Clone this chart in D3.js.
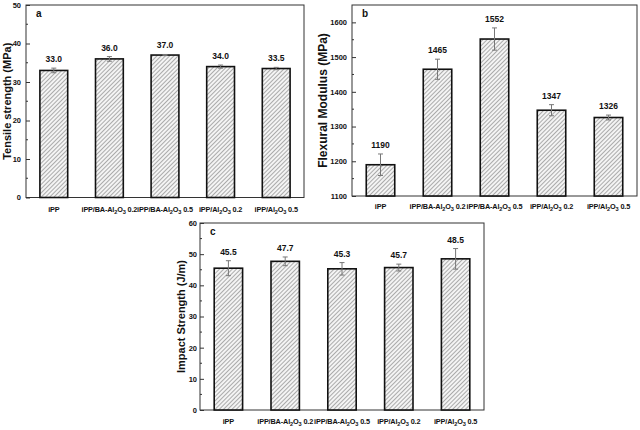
<!DOCTYPE html>
<html>
<head>
<meta charset="utf-8">
<script src="https://cdn.jsdelivr.net/npm/d3@7"></script>
<style>
  html, body { margin: 0; padding: 0; background: #fff; }
  svg { display: block; font-family: "Liberation Sans", Arial, sans-serif; font-weight: bold; }
</style>
</head>
<body>
<svg id="chart" width="640" height="430"></svg>
<script>
// ---- data ----
const categories = ["iPP", "iPP/BA-Al2O3 0.2", "iPP/BA-Al2O3 0.5", "iPP/Al2O3 0.2", "iPP/Al2O3 0.5"];

const tensile = [33.0, 36.0, 37.0, 34.0, 33.5];
const tensileErr = [0.6, 0.6, 0.15, 0.4, 0.3];
const tensileTicks = [0, 10, 20, 30, 40, 50];

const flexural = [1190, 1465, 1552, 1347, 1326];
const flexuralErr = [31, 29, 32, 16, 7];
const flexuralTicks = [1100, 1200, 1300, 1400, 1500, 1600];

const impact = [45.5, 47.7, 45.3, 45.7, 48.5];
const impactErr = [2.4, 1.4, 2.0, 1.1, 3.3];
const impactTicks = [0, 10, 20, 30, 40, 50, 60];

// ---- drawing ----
const svg = d3.select("#chart");
const defs = svg.append("defs");
const pat = defs.append("pattern")
  .attr("id", "hatch").attr("patternUnits", "userSpaceOnUse")
  .attr("width", 3).attr("height", 3)
  .attr("patternTransform", "rotate(45)");
pat.append("rect").attr("width", 3).attr("height", 3).attr("fill", "#f4f4f4");
pat.append("line").attr("x1", 0).attr("y1", 0).attr("x2", 0).attr("y2", 3)
  .attr("stroke", "#6f6f6f").attr("stroke-width", 1.1);

function catLabel(sel, s) {
  // render Al2O3 with subscripts
  const m = s.match(/^(.*Al)2O3(.*)$/);
  if (!m) { sel.text(s); return; }
  sel.append("tspan").text(m[1]);
  sel.append("tspan").attr("dy", 2.3).attr("font-size", 5.6).text("2");
  sel.append("tspan").attr("dy", -2.3).text("O");
  sel.append("tspan").attr("dy", 2.3).attr("font-size", 5.6).text("3");
  sel.append("tspan").attr("dy", -2.3).text(m[2]);
}

function panel(cfg) {
  const g = svg.append("g");
  const x = d3.scaleBand().domain(categories).range([cfg.x0, cfg.x1]).paddingInner(0.5).paddingOuter(0.25);
  const y = d3.scaleLinear().domain(cfg.domain).range([cfg.y1, cfg.y0]);

  // frame
  g.append("rect").attr("x", cfg.x0).attr("y", cfg.y0)
    .attr("width", cfg.x1 - cfg.x0).attr("height", cfg.y1 - cfg.y0)
    .attr("fill", "none").attr("stroke", "#333").attr("stroke-width", 1);

  // y axis (ticks inward)
  const ax = d3.axisLeft(y).tickValues(cfg.ticks).tickSize(-4).tickPadding(cfg.tickPad).tickFormat(d3.format("d"));
  const ag = g.append("g").attr("transform", `translate(${cfg.x0},0)`).call(ax);
  ag.select(".domain").remove();
  ag.selectAll("text").attr("font-size", 7.5).attr("font-weight", "bold").attr("fill", "#111")
    .attr("font-family", "Liberation Sans, Arial, sans-serif");
  ag.selectAll("line").attr("stroke", "#333");
  // minor ticks
  const minor = d3.range(cfg.domain[0] + cfg.minor, cfg.domain[1], cfg.minor * 2);
  g.selectAll(".minor").data(minor).join("line")
    .attr("x1", cfg.x0).attr("x2", cfg.x0 + 2)
    .attr("y1", d => y(d)).attr("y2", d => y(d))
    .attr("stroke", "#333").attr("stroke-width", 1);

  // bars
  g.selectAll(".bar").data(cfg.values).join("rect")
    .attr("x", (d, i) => x(categories[i]))
    .attr("y", d => y(d))
    .attr("width", x.bandwidth())
    .attr("height", d => y(cfg.domain[0]) - y(d))
    .attr("fill", "url(#hatch)")
    .attr("stroke", "#111").attr("stroke-width", 1.6);

  // error bars
  const eg = g.append("g").attr("stroke", "#777").attr("stroke-width", 1);
  cfg.values.forEach((v, i) => {
    const cx = x(categories[i]) + x.bandwidth() / 2;
    const e = cfg.err[i];
    eg.append("line").attr("x1", cx).attr("x2", cx).attr("y1", y(v + e)).attr("y2", y(v - e));
    eg.append("line").attr("x1", cx - 2.5).attr("x2", cx + 2.5).attr("y1", y(v + e)).attr("y2", y(v + e));
    eg.append("line").attr("x1", cx - 2.5).attr("x2", cx + 2.5).attr("y1", y(v - e)).attr("y2", y(v - e));
  });

  // value labels
  g.selectAll(".val").data(cfg.values).join("text")
    .attr("x", (d, i) => x(categories[i]) + x.bandwidth() / 2)
    .attr("y", (d, i) => y(d + cfg.err[i]) - 6)
    .attr("text-anchor", "middle").attr("font-size", 8.5).attr("fill", "#111")
    .text(d => cfg.fmt(d));

  // category labels
  categories.forEach((c, i) => {
    const t = g.append("text")
      .attr("x", x(c) + x.bandwidth() / 2)
      .attr("y", cfg.labelY)
      .attr("text-anchor", "middle").attr("font-size", 7.3)
      .attr("letter-spacing", -0.15).attr("fill", "#111");
    catLabel(t, c);
  });

  // y title
  g.append("text")
    .attr("transform", `translate(${cfg.titleX},${(cfg.y0 + cfg.y1) / 2}) rotate(-90)`)
    .attr("text-anchor", "middle").attr("font-size", cfg.titleSize).attr("fill", "#111")
    .text(cfg.title);

  // panel letter
  g.append("text").attr("x", cfg.x0 + 10).attr("y", cfg.y0 + 12)
    .attr("font-size", 10).attr("fill", "#111").text(cfg.letter);
}

panel({ x0: 26, x1: 304, y0: 5, y1: 197.5, domain: [0, 50], ticks: tensileTicks, minor: 5, tickPad: 5,
  values: tensile, err: tensileErr, fmt: d3.format(".1f"), labelY: 212,
  title: "Tensile strength (MPa)", titleX: 11, titleSize: 11, letter: "a" });

panel({ x0: 352, x1: 637, y0: 5, y1: 196, domain: [1100, 1650], ticks: flexuralTicks, minor: 50, tickPad: 5,
  values: flexural, err: flexuralErr, fmt: d3.format("d"), labelY: 209,
  title: "Flexural Modulus (MPa)", titleX: 327, titleSize: 12, letter: "b" });

panel({ x0: 200, x1: 484, y0: 223, y1: 410, domain: [0, 60], ticks: impactTicks, minor: 5, tickPad: 3,
  values: impact, err: impactErr, fmt: d3.format(".1f"), labelY: 424,
  title: "Impact Strength (J/m)", titleX: 185, titleSize: 11, letter: "c" });
</script>
</body>
</html>
